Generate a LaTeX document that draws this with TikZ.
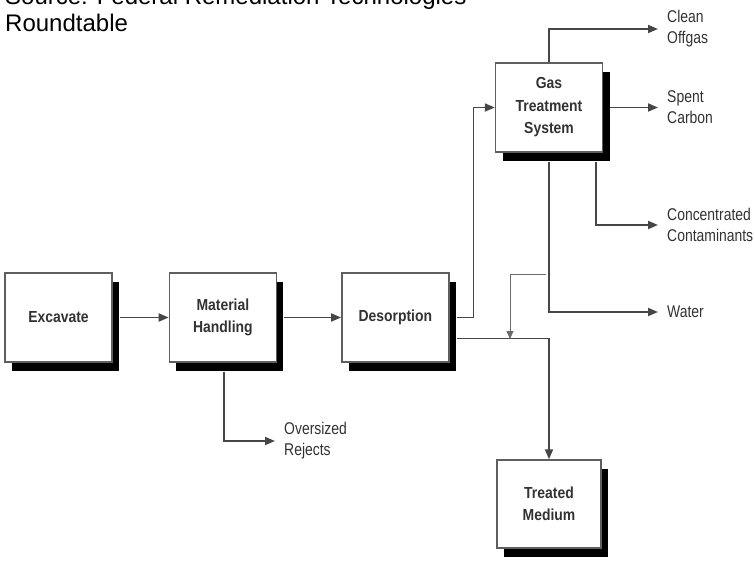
\documentclass[tikz,border=0pt]{standalone}
\usepackage{fontspec}
\setmainfont{Liberation Sans}
\newfontfamily\boxfont[FakeStretch=0.87]{Liberation Sans}
\newfontfamily\lblfont[FakeStretch=0.82]{Liberation Sans}
\usetikzlibrary{arrows.meta, positioning, shadows}
\definecolor{linegray}{RGB}{70, 70, 70}
\definecolor{boxgray}{RGB}{95, 95, 95}
\definecolor{textgray}{RGB}{50, 50, 50}
\tikzset{
  >=Triangle,
  procbox/.style={draw=boxgray, line width=1.4pt, fill=white, minimum width=107pt, minimum height=89pt, inner sep=0pt, align=center, text=textgray, font=\boxfont\bfseries\fontsize{16}{22.5}\selectfont, drop shadow={shadow xshift=7pt, shadow yshift=-9pt, fill=black, opacity=1}},
  outlabel/.style={anchor=west, align=left, inner xsep=9pt, inner ysep=2pt, text=textgray, font=\lblfont\fontsize{17}{21}\selectfont},
  flowline/.style={-{Triangle[length=10pt, width=8pt]}, line width=1.8pt, linegray},
  thinline/.style={-{Triangle[length=8pt, width=7pt]}, line width=0.8pt, linegray!80}
}
\begin{document}
\begin{tikzpicture}[x=1pt, y=-1pt, node distance=56pt]
    \useasboundingbox (0,0) rectangle (755,562);
    \node[anchor=base west, align=left, inner sep=0pt, font=\fontsize{24}{27}\selectfont] (src) at (5,31) {Source: Federal Remediation Technologies\\Roundtable};
    \node[procbox] (exc) at (58.5,317.5) {Excavate};
    \node[procbox, right=of exc] (mh) {Material\\Handling};
    \node[procbox, right=64pt of mh] (des) {Desorption};
    \node[procbox] (gas) at (549,107.5) {Gas\\Treatment\\System};
    \node[procbox, minimum width=104pt, minimum height=88pt] (med) at (549,504) {Treated\\Medium};
    \node[outlabel] (offgas) at (658,29) {Clean\\Offgas};
    \node[outlabel] (carbon) at (658,107.5) {Spent\\Carbon};
    \node[outlabel] (conc) at (658,225) {Concentrated\\Contaminants};
    \node[outlabel] (water) at (658,312) {Water};
    \node[outlabel] (rejects) at (275,441) {Oversized\\Rejects};
    \coordinate (tap) at (546,274);
    \coordinate (merge) at (510,339);
    \draw[flowline] ([xshift=7pt]exc.east) -- (mh.west);
    \draw[flowline] ([xshift=7pt]mh.east) -- (des.west);
    \draw[flowline] ([xshift=7pt]des.east) -- ++(17,0) |- (gas.west);
    \draw[flowline] ([xshift=7pt, yshift=-21pt]des.east) -| (med.north);
    \draw[flowline] (gas.north) |- (offgas.west);
    \draw[flowline] ([xshift=7pt]gas.east) -- (carbon.west);
    \draw[flowline] ([xshift=47pt, yshift=-9pt]gas.south) |- (conc.west);
    \draw[flowline] ([yshift=-9pt]gas.south) |- (water.west);
    \draw[flowline] ([xshift=1pt, yshift=-9pt]mh.south) |- (rejects.west);
    \draw[thinline] (tap) -| (merge);
\end{tikzpicture}
\end{document}
